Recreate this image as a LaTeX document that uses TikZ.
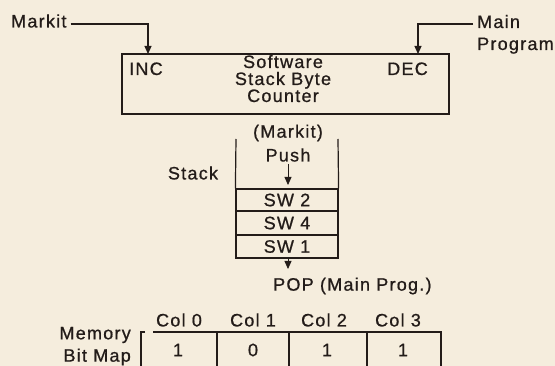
\documentclass[tikz,border=0pt]{standalone}
\usepackage{fontspec}
\setmainfont{Liberation Sans}[LetterSpace=7, FakeBold=0.8]
\usetikzlibrary{arrows.meta}
\definecolor{paper}{HTML}{F5EDDD}
\definecolor{ink}{HTML}{231C19}
\tikzset{
  lbl/.style={inner sep=0pt, text=ink, font=\fontsize{18}{18}\selectfont},
  ln/.style={draw=ink, line width=1.2pt},
  arr/.style={ln, -{Triangle[width=7pt,length=8pt]}},
  cell/.style={ln, rectangle, inner sep=0pt, text=ink, font=\fontsize{18}{18}\selectfont},
}
\begin{document}
\begin{tikzpicture}[x=1pt,y=-1pt]
\fill[paper] (0,0) rectangle (555,366);
\useasboundingbox (0,0) rectangle (555,366);
\clip (0,0) rectangle (555,366);
% top counter box
\node[cell, minimum width=327pt, minimum height=60pt] (cnt) at (285.5,84) {};
\node[lbl, anchor=base west] (inc) at (129,75) {INC};
\node[lbl, anchor=base east] (dec) at (428,75) {DEC};
\node[lbl, anchor=base] (sw1t) at (283,68) {Software};
\node[lbl, anchor=base] (sw2t) at (283,85) {Stack Byte};
\node[lbl, anchor=base] (sw3t) at (283,102) {Counter};
% inputs
\node[lbl, anchor=west] (markit) at (11,21) {Markit};
\coordinate (mk) at (148,24);
\draw[arr] ([xshift=4pt]markit.east |- mk) -- (mk) -- (148,54);
\node[lbl, anchor=base west] (mainp) at (477,28) {Main};
\node[lbl, anchor=base west] (prog) at (477,50) {Program};
\coordinate (mp) at (418,24);
\draw[arr] ([xshift=-4pt]mainp.west |- mp) -- (mp) -- (418,54);
% stack
\node[lbl] (mkt) at (288,133) {(Markit)};
\node[lbl] (push) at (288,155) {Push};
\node[lbl] (stk) at (193,173) {Stack};
\coordinate (stl) at (236,139);
\coordinate (str) at (338,139);
\node[cell, minimum width=102pt, minimum height=22pt] (sw2) at (287,200) {SW 2};
\node[cell, minimum width=102pt, minimum height=24pt] (sw4) at (287,223) {SW 4};
\node[cell, minimum width=102pt, minimum height=23pt] (sw1) at (287,246.5) {SW 1};
\draw[ln] (stl) -- (sw2.north west);
\draw[ln] (str) -- (sw2.north east);
\draw[arr, line width=0.8pt] (288,164) -- (288,185);
\node[lbl, anchor=west] (pop) at (273,286) {POP (Main Prog.)};
\draw[arr, line width=0.8pt] (sw1.south -| 288,0) -- (288,269);
% bit map
\node[lbl] (c0) at (179,320) {Col 0};
\node[lbl] (c1) at (253,320) {Col 1};
\node[lbl] (c2) at (324,320) {Col 2};
\node[lbl] (c3) at (398,320) {Col 3};
\coordinate (bl) at (141,332);
\draw[ln] (145,332) -- (bl) -- (141,372);
\draw[ln] (153,332) -- (441,332) -- (441,372);
\draw[ln] (217,332) -- (217,372);
\draw[ln] (289,332) -- (289,372);
\draw[ln] (367,332) -- (367,372);
\node[lbl] (v0) at (178,350) {1};
\node[lbl] (v1) at (253,350) {0};
\node[lbl] (v2) at (327,350) {1};
\node[lbl] (v3) at (403,350) {1};
\node[lbl, anchor=east] (mem) at (131,335) {Memory};
\node[lbl, anchor=east] (bmap) at (131,357) {Bit Map};
\end{tikzpicture}
\end{document}
